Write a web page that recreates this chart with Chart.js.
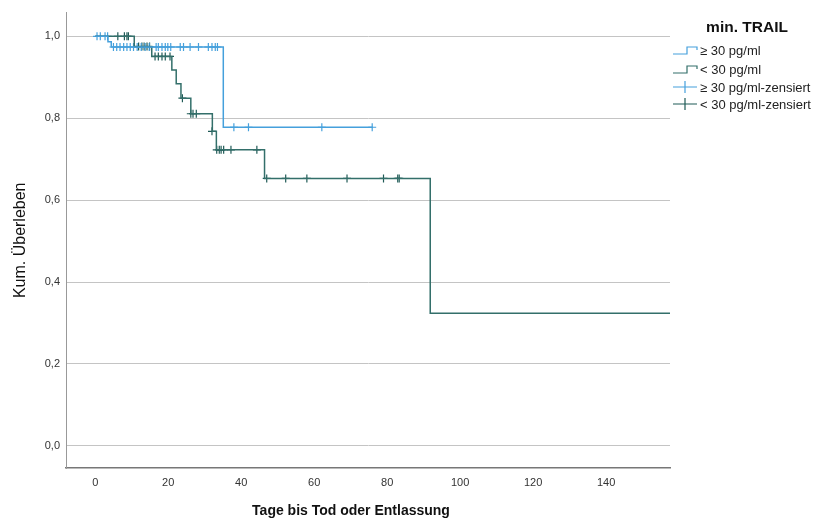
<!DOCTYPE html>
<html>
<head>
<meta charset="utf-8">
<script src="https://cdn.jsdelivr.net/npm/chart.js@4"></script>
<style>
  html, body { margin: 0; padding: 0; background: #fff; }
  canvas { display: block; }
</style>
</head>
<body>
<canvas id="kmChart" width="822" height="520"></canvas>
<script>
// axis ticks
const xTicks = [0, 20, 40, 60, 80, 100, 120, 140];
const yTicks = [0, 0.2, 0.4, 0.6, 0.8, 1.0];

// >= 30 pg/ml: step curve (time, survival after the step)
const hiTime = [0, 3.5, 4.4, 35.1, 76];
const hiSurv = [1.0, 0.987, 0.974, 0.778, 0.778];

// < 30 pg/ml: step curve
const loTime = [0, 10.7, 15.5, 21.0, 22.2, 23.5, 26.2, 32.1, 33.2, 46.4, 91.8, 157.5];
const loSurv = [1.0, 0.975, 0.951, 0.918, 0.884, 0.849, 0.811, 0.768, 0.723, 0.653, 0.324, 0.324];

// censored cases
const hiCensT = [0.5, 1.4, 2.7, 3.4,
  5.0, 5.9, 6.8, 7.8, 8.7, 9.6, 10.5, 11.5, 12.6, 13.7, 14.8, 16.7, 17.3, 18.3, 19.2,
  19.9, 20.7, 23.3, 24.2, 26.0, 28.3, 31.0, 32.0, 32.9, 33.5,
  38.0, 42.0, 62.1, 75.9];
const hiCensS = [1.0, 1.0, 1.0, 1.0,
  0.974, 0.974, 0.974, 0.974, 0.974, 0.974, 0.974, 0.974, 0.974, 0.974, 0.974, 0.974, 0.974, 0.974, 0.974,
  0.974, 0.974, 0.974, 0.974, 0.974, 0.974, 0.974, 0.974, 0.974, 0.974,
  0.778, 0.778, 0.778, 0.778];

const loCensT = [6.2, 8.0, 8.7, 9.1,
  11.9, 12.8, 13.4, 14.2, 14.9,
  16.4, 17.3, 18.3, 19.2, 20.5,
  23.9,
  26.2, 26.8, 27.7,
  32.0,
  33.3, 34.0, 34.5, 35.2, 37.2, 44.3,
  47.0, 52.2, 58.0, 69.0, 79.0, 82.9, 83.3];
const loCensS = [1.0, 1.0, 1.0, 1.0,
  0.975, 0.975, 0.975, 0.975, 0.975,
  0.951, 0.951, 0.951, 0.951, 0.951,
  0.849,
  0.811, 0.811, 0.811,
  0.768,
  0.723, 0.723, 0.723, 0.723, 0.723, 0.723,
  0.653, 0.653, 0.653, 0.653, 0.653, 0.653, 0.653];

const xTitle = "Tage bis Tod oder Entlassung";
const yTitle = "Kum. Überleben";
const legendTitle = "min. TRAIL";
const legendLabels = ["≥ 30 pg/ml", "< 30 pg/ml", "≥ 30 pg/ml-zensiert", "< 30 pg/ml-zensiert"];

const BLUE = "#45a0dc";
const TEAL = "#336f6a";
const TEAL_DARK = "#1f5a56";
const FONT = "'Liberation Sans', Arial, sans-serif";

const toPoints = (xs, ys) => xs.map((x, i) => ({ x: x, y: ys[i] }));

// legend and x title drawn by hand, SPSS style
const spssDecor = {
  id: "spssDecor",
  afterDraw(chart) {
    const ctx = chart.ctx;
    const x0 = 673;
    ctx.save();
    ctx.fillStyle = "#111";
    ctx.textAlign = "center";
    ctx.textBaseline = "middle";
    ctx.font = "bold 14px " + FONT;
    ctx.fillText(xTitle, 351, 511);

    ctx.font = "bold 15.5px " + FONT;
    ctx.fillText(legendTitle, 747, 28);

    const rows = [50, 69, 87, 104];
    const colors = [BLUE, TEAL, BLUE, TEAL_DARK];
    ctx.font = "13px " + FONT;
    ctx.textAlign = "left";
    rows.forEach((y, i) => {
      ctx.strokeStyle = colors[i];
      ctx.lineWidth = 1.2;
      ctx.beginPath();
      if (i < 2) {
        ctx.moveTo(x0, y + 4);
        ctx.lineTo(x0 + 14, y + 4);
        ctx.lineTo(x0 + 14, y - 3);
        ctx.lineTo(x0 + 24, y - 3);
        ctx.lineTo(x0 + 24, y);
      } else {
        ctx.moveTo(x0, y);
        ctx.lineTo(x0 + 24, y);
        ctx.moveTo(x0 + 12, y - 6);
        ctx.lineTo(x0 + 12, y + 6);
      }
      ctx.stroke();
      ctx.fillStyle = "#222";
      ctx.fillText(legendLabels[i], x0 + 27, y + 1);
    });
    ctx.restore();
  }
};

new Chart(document.getElementById("kmChart").getContext("2d"), {
  type: "line",
  data: {
    datasets: [
      {
        label: legendLabels[0],
        data: toPoints(hiTime, hiSurv),
        stepped: true,
        borderColor: BLUE,
        borderWidth: 1.5,
        pointRadius: 0,
        fill: false,
      },
      {
        label: legendLabels[1],
        data: toPoints(loTime, loSurv),
        stepped: true,
        borderColor: TEAL,
        borderWidth: 1.5,
        pointRadius: 0,
        fill: false,
      },
      {
        label: legendLabels[2],
        data: toPoints(hiCensT, hiCensS),
        showLine: false,
        pointStyle: "cross",
        pointRadius: 4,
        pointBorderWidth: 1.2,
        pointBorderColor: BLUE,
      },
      {
        label: legendLabels[3],
        data: toPoints(loCensT, loCensS),
        showLine: false,
        pointStyle: "cross",
        pointRadius: 4,
        pointBorderWidth: 1.2,
        pointBorderColor: TEAL_DARK,
      },
    ],
  },
  options: {
    responsive: false,
    animation: false,
    devicePixelRatio: 1,
    layout: { padding: { left: 0, right: 152, top: 10, bottom: 0 } },
    plugins: {
      legend: { display: false },
      tooltip: { enabled: false },
    },
    scales: {
      x: {
        type: "linear",
        min: -8,
        max: 157.5,
        afterBuildTicks: s => { s.ticks = xTicks.map(v => ({ value: v })); },
        afterFit: s => { s.height = 52; },
        grid: { display: false, drawTicks: false },
        border: { display: true, color: "#777", width: 1.5 },
        ticks: { padding: 8, color: "#333", font: { family: FONT, size: 11 } },
        title: { display: false },
      },
      y: {
        type: "linear",
        min: -0.054,
        max: 1.058,
        afterBuildTicks: s => { s.ticks = yTicks.map(v => ({ value: v })); },
        afterFit: s => { s.width = 66; },
        grid: { color: "#c4c4c4", lineWidth: 1, drawTicks: false },
        border: { display: true, color: "#999", width: 1 },
        ticks: {
          padding: 6,
          color: "#333",
          font: { family: FONT, size: 11 },
          callback: v => v.toFixed(1).replace(".", ","),
        },
        title: {
          display: true,
          text: yTitle,
          color: "#111",
          font: { family: FONT, size: 16 },
          padding: { top: 11, bottom: 0 },
        },
      },
    },
  },
  plugins: [spssDecor],
});
</script>
</body>
</html>
